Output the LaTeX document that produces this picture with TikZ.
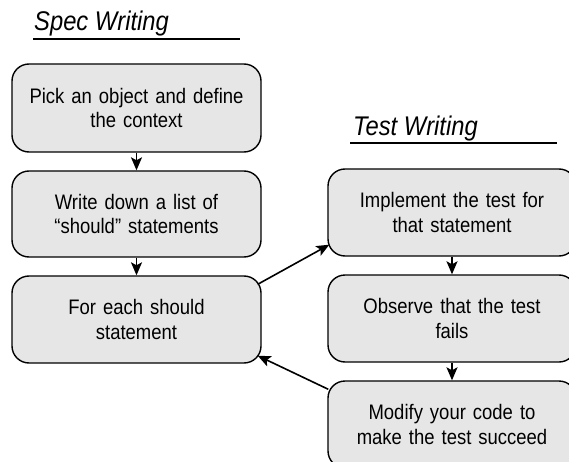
\documentclass[tikz,border=0pt]{standalone}
\usepackage{fontspec}
\setmainfont[FakeStretch=0.88]{Liberation Sans}
\usetikzlibrary{arrows.meta}
\definecolor{boxfill}{HTML}{E6E6E6}
\tikzset{
  stepbox/.style={draw=black, line width=1.4pt, fill=boxfill, rounded corners=17pt,
    minimum width=249pt, minimum height=87pt, text width=235pt, align=center,
    font=\fontsize{21pt}{24.5pt}\selectfont, inner sep=0pt},
  arr/.style={line width=1.6pt, -{Stealth[length=13pt,width=11pt,inset=3pt]}},
  ttl/.style={anchor=base west, inner sep=0pt, font=\fontsize{27pt}{32pt}\selectfont\itshape},
  uline/.style={line width=1.3pt}
}
\begin{document}
\begin{tikzpicture}[x=1pt,y=-1pt]
\useasboundingbox (0,0) rectangle (569,462);
\clip (0,0) rectangle (569,462);
% titles
\node[ttl] (t1) at (34,31) {Spec Writing};
\coordinate (u1a) at (33,39);
\coordinate (u1b) at (240,39);
\draw[uline] (u1a) -- (u1b);
\node[ttl] (t2) at (353,136) {Test Writing};
\coordinate (u2a) at (350,143);
\coordinate (u2b) at (557,143);
\draw[uline] (u2a) -- (u2b);
% left column
\node[stepbox, minimum height=88pt] (b1) at (136.5,108) {Pick an object and define\\the context};
\node[stepbox, minimum height=86pt] (b2) at (136.5,214) {Write down a list of\\“should” statements};
\node[stepbox] (b3) at (136.5,319.5) {For each should\\statement};
% right column
\node[stepbox, minimum width=248pt] (r1) at (452,212.5) {Implement the test for\\that statement};
\node[stepbox, minimum width=248pt] (r2) at (452,318.5) {Observe that the test\\fails};
\node[stepbox, minimum width=248pt] (r3) at (452,424.5) {Modify your code to\\make the test succeed};
% connectors
\draw[arr] (b1) -- (b2);
\draw[arr] (b2) -- (b3);
\draw[arr] (r1) -- (r2);
\draw[arr] (r2) -- (r3);
\draw[arr] ([xshift=-4pt,yshift=-9pt]b3.north east) -- ([xshift=2pt,yshift=12pt]r1.south west);
\draw[arr] ([xshift=1pt,yshift=-9pt]r3.north west) -- ([xshift=-4pt,yshift=8pt]b3.south east);
\end{tikzpicture}
\end{document}
